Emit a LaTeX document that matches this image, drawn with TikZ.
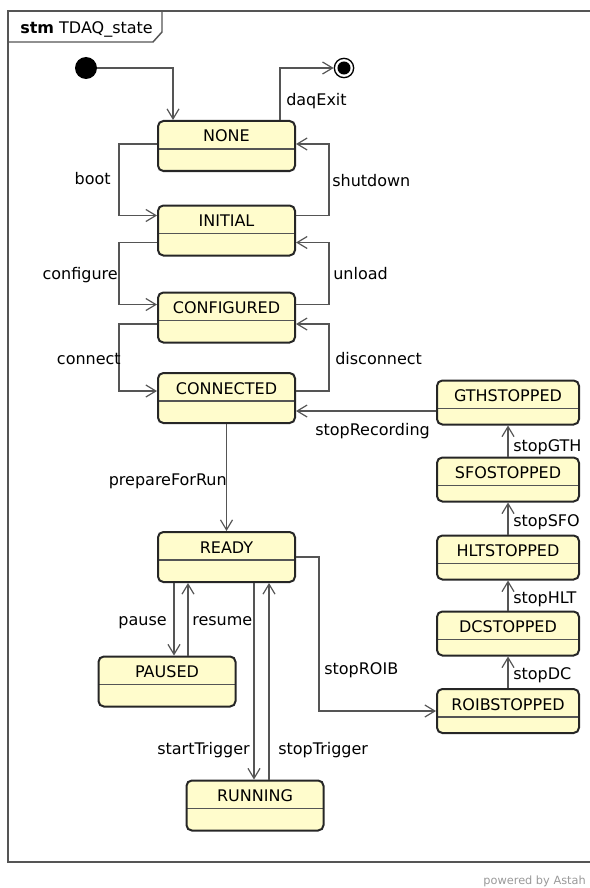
\documentclass[tikz,border=0pt]{standalone}
\usepackage{fontspec}
\setmainfont{DejaVu Sans}
\usepackage{xcolor}
\usepackage{tikz}
\usetikzlibrary{arrows.meta}
\usetikzlibrary{calc}
\definecolor{stfill}{RGB}{255,252,204}
\definecolor{lncol}{RGB}{85,85,85}
\tikzset{
    stbox/.style={draw=black!85, line width=1.5pt, rounded corners=4pt, fill=stfill,
        inner xsep=0pt, inner ysep=0pt, minimum width=102.75pt,
        text height=15.75pt, text depth=21.75pt, font=\fontsize{12}{14}\selectfont,
        path picture={\draw[lncol, line width=0.8pt]
            ([yshift=-21pt]path picture bounding box.north west) --
            ([yshift=-21pt]path picture bounding box.north east);}},
    stsmall/.style={stbox, minimum width=106.5pt, text depth=17.25pt},
    trans/.style={draw=lncol, line width=0.9pt, -{Straight Barb[length=7.5pt,width=9pt]}},
    lbl/.style={font=\fontsize{12}{14}\selectfont, inner sep=0pt}}

\begin{document}
\begin{tikzpicture}[x=0.75pt, y=-0.75pt]
\useasboundingbox (0,0) rectangle (589,888);

% frame and name tab
\draw[lncol, line width=1.1pt] (8,11) rectangle (600,862);
\draw[lncol, line width=1.1pt] (8,42) -- (153,42) -- (162,32) -- (162,11);
\node[lbl, anchor=base west] (TTL) at (20,34) {\textbf{stm} TDAQ\_state};

\node[circle, fill=black, minimum size=16.5pt, inner sep=0pt] (I0) at (86,68) {};
\node[circle, draw=black, line width=1pt, fill=white, minimum size=14.5pt, inner sep=0pt] (F0) at (344,68) {};
\fill (F0) circle (4.9pt);

\node[stbox] (NONE) at (226.5,146) {NONE};
\node[stbox] (INIT) at (226.5,230.5) {INITIAL};
\node[stbox] (CONF) at (226.5,317.5) {CONFIGURED};
\node[stbox] (CONN) at (226.5,398) {CONNECTED};
\node[stbox] (READY) at (226.5,557) {READY};
\node[stbox] (PAUSED) at (167,681.5) {PAUSED};
\node[stbox] (RUN) at (255,805.5) {RUNNING};

\node[stsmall] (GTH) at (508,402.5) {GTHSTOPPED};
\node[stsmall] (SFO) at (508,479.5) {SFOSTOPPED};
\node[stsmall] (HLT) at (508,557.5) {HLTSTOPPED};
\node[stsmall] (DC) at (508,633.5) {DCSTOPPED};
\node[stsmall] (ROIB) at (508,711) {ROIBSTOPPED};

\draw[trans] (I0.east) -| ([xshift=-40.1pt]NONE.north);
\draw[trans] ([xshift=40.1pt]NONE.north) |- (F0.west);

% up and down the left column
\draw[trans] ([yshift=1.5pt]NONE.west) -- ++(-38,0) |- ([yshift=11.25pt]INIT.west);
\draw[trans] ([yshift=11.25pt]INIT.east) -- ++(33,0) |- ([yshift=1.5pt]NONE.east);
\draw[trans] ([yshift=-9pt]INIT.west) -- ++(-38,0) |- ([yshift=9.75pt]CONF.west);
\draw[trans] ([yshift=9.75pt]CONF.east) -- ++(33,0) |- ([yshift=-9pt]INIT.east);
\draw[trans] ([yshift=-4.9pt]CONF.west) -- ++(-38,0) |- ([yshift=5.25pt]CONN.west);
\draw[trans] ([yshift=5.25pt]CONN.east) -- ++(33,0) |- ([yshift=-4.9pt]CONF.east);
\draw[trans] (CONN.south) -- (READY.north);

\draw[trans] ([xshift=5.25pt]PAUSED.north |- READY.south) -- ([xshift=5.25pt]PAUSED.north);
\draw[trans] ([xshift=15.75pt]PAUSED.north) -- ([xshift=15.75pt]PAUSED.north |- READY.south);
\draw[trans] ([xshift=-0.75pt]RUN.north |- READY.south) -- ([xshift=-0.75pt]RUN.north);
\draw[trans] ([xshift=10.5pt]RUN.north) -- ([xshift=10.5pt]RUN.north |- READY.south);

% stop chain on the right
\draw[trans] (READY.east) -- ++(23,0) |- (ROIB.west);
\draw[trans] (ROIB.north) -- (DC.south);
\draw[trans] (DC.north) -- (HLT.south);
\draw[trans] (HLT.north) -- (SFO.south);
\draw[trans] (SFO.north) -- (GTH.south);
\draw[trans] ([yshift=-6.4pt]GTH.west) -- ([yshift=-6.4pt]GTH.west -| CONN.east);

\node[lbl, anchor=base west] (Lexit) at (286,106) {daqExit};
\node[lbl, anchor=base east] (Lboot) at (111,185) {boot};
\node[lbl, anchor=base west] (Lshut) at (332,186) {shutdown};
\node[lbl, anchor=base east] (Lconf) at (118,279) {configure};
\node[lbl, anchor=base west] (Lunl) at (333,279) {unload};
\node[lbl, anchor=base east] (Lconn) at (121,364) {connect};
\node[lbl, anchor=base west] (Ldisc) at (335,364) {disconnect};
\node[lbl, anchor=base east] (Lprep) at (227,485) {prepareForRun};
\node[lbl, anchor=base east] (Lpause) at (167,625) {pause};
\node[lbl, anchor=base west] (Lres) at (192,625) {resume};
\node[lbl, anchor=base east] (Lstart) at (250,754) {startTrigger};
\node[lbl, anchor=base west] (Lstop) at (278,754) {stopTrigger};
\node[lbl, anchor=base west] (Lroib) at (324,674) {stopROIB};
\node[lbl, anchor=base west] (Lrec) at (315,435) {stopRecording};
\node[lbl, anchor=base west] (Lgth) at (513,451) {stopGTH};
\node[lbl, anchor=base west] (Lsfo) at (513,526) {stopSFO};
\node[lbl, anchor=base west] (Lhlt) at (513,603) {stopHLT};
\node[lbl, anchor=base west] (Ldc) at (513,679) {stopDC};

\node[font=\fontsize{8.5}{10}\selectfont, text=black!40, inner sep=0pt, anchor=base east] (PWR) at (586,884) {powered by Astah};
\end{tikzpicture}
\end{document}
